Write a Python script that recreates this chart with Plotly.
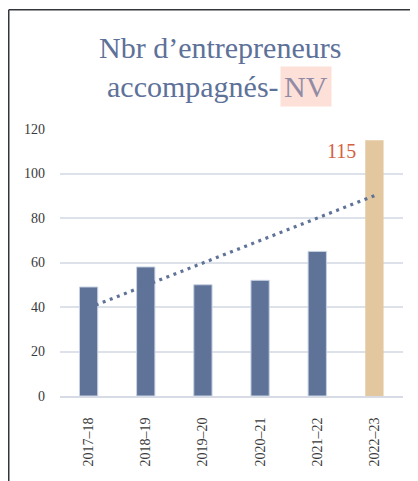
import numpy as np
import plotly.graph_objects as go

categories = ["2017–18", "2018–19", "2019–20", "2020–21", "2021–22", "2022–23"]
values = [49, 58, 50, 52, 65, 115]
y_ticks = [0, 20, 40, 60, 80, 100, 120]
highlight_label = "115"

BLUE = "#5f7399"
GOLD = "#e3c79f"
TITLE = "#5d7199"
SERIF = "Liberation Serif"

# page body has an 8px margin; figure starts at screen (8, 8)
OFF = 8
W, H = 410, 473
L, R, T, B = 52, 15, 121, 85
pw, ph = W - L - R, H - T - B
def px(x):  # screen px -> paper
    return (x - OFF - L) / pw
def py(y):
    return (H - B - (y - OFF)) / ph

# trend line from linear regression of the values
xi = np.arange(1, len(values) + 1)
slope, intercept = np.polyfit(xi, values, 1)
trend = slope * xi + intercept

fig = go.Figure()
fig.add_trace(go.Bar(x=categories[-1:], y=values[-1:], marker=dict(color=GOLD, line=dict(width=0)),
                     width=0.32, hoverinfo="skip"))
fig.add_trace(go.Scatter(x=categories, y=trend, mode="lines",
                         line=dict(color=BLUE, width=3.2, dash="3px,4.6px"), hoverinfo="skip"))
fig.add_trace(go.Bar(x=categories[:-1], y=values[:-1],
                     marker=dict(color=BLUE, line=dict(color="#c9d2e3", width=1)),
                     width=0.32, hoverinfo="skip"))

fig.update_layout(
    width=W, height=H,
    margin=dict(l=L, r=R, t=T, b=B),
    paper_bgcolor="white", plot_bgcolor="white",
    showlegend=False, barmode="overlay",
    font=dict(family=SERIF, color="#3a3a3a"),
    xaxis=dict(type="category", categoryorder="array", categoryarray=categories,
               tickangle=-90, tickfont=dict(size=14, color="#3a3a3a", family=SERIF),
               showgrid=False, showline=True, linecolor="#d6dbe6", linewidth=2,
               ticks="", ticklabelstandoff=14, range=[-0.5, len(categories) - 0.5]),
    yaxis=dict(range=[0, 120], tickvals=y_ticks, showgrid=True, gridcolor="#dde1e9", gridwidth=1.5,
               zeroline=False, showline=False, ticks="",
               tickfont=dict(size=14, color="#3a3a3a", family=SERIF), ticklabelstandoff=14),
)

annos = [
    dict(text="Nbr d’entrepreneurs", x=px(220), y=py(48), xref="paper", yref="paper",
         xanchor="center", yanchor="middle", showarrow=False,
         font=dict(size=30, color=TITLE, family=SERIF)),
    dict(text="accompagnés-", x=px(281), y=py(86), xref="paper", yref="paper",
         xanchor="right", yanchor="middle", showarrow=False,
         font=dict(size=30, color=TITLE, family=SERIF)),
    dict(text="NV", x=px(280), y=py(86), xref="paper", yref="paper",
         xanchor="left", yanchor="middle", showarrow=False, bgcolor="#fde0d8", borderpad=3,
         font=dict(size=30, color="#918ba5", family=SERIF)),
    dict(text=highlight_label, x=categories[-1], y=values[-1], xref="x", yref="y",
         xanchor="right", yanchor="top", xshift=-16, yshift=2, showarrow=False,
         font=dict(size=20, color="#d5603f", family=SERIF)),
]
fig.update_layout(annotations=annos)

fig.add_shape(type="line", xref="paper", yref="paper", x0=px(8.75), x1=px(8.75), y0=py(9.75), y1=py(500),
              line=dict(color="#34363d", width=1.5))
fig.add_shape(type="line", xref="paper", yref="paper", x0=px(8.75), x1=px(440), y0=py(9.75), y1=py(9.75),
              line=dict(color="#34363d", width=1.5))

fig.write_html("out.html")
